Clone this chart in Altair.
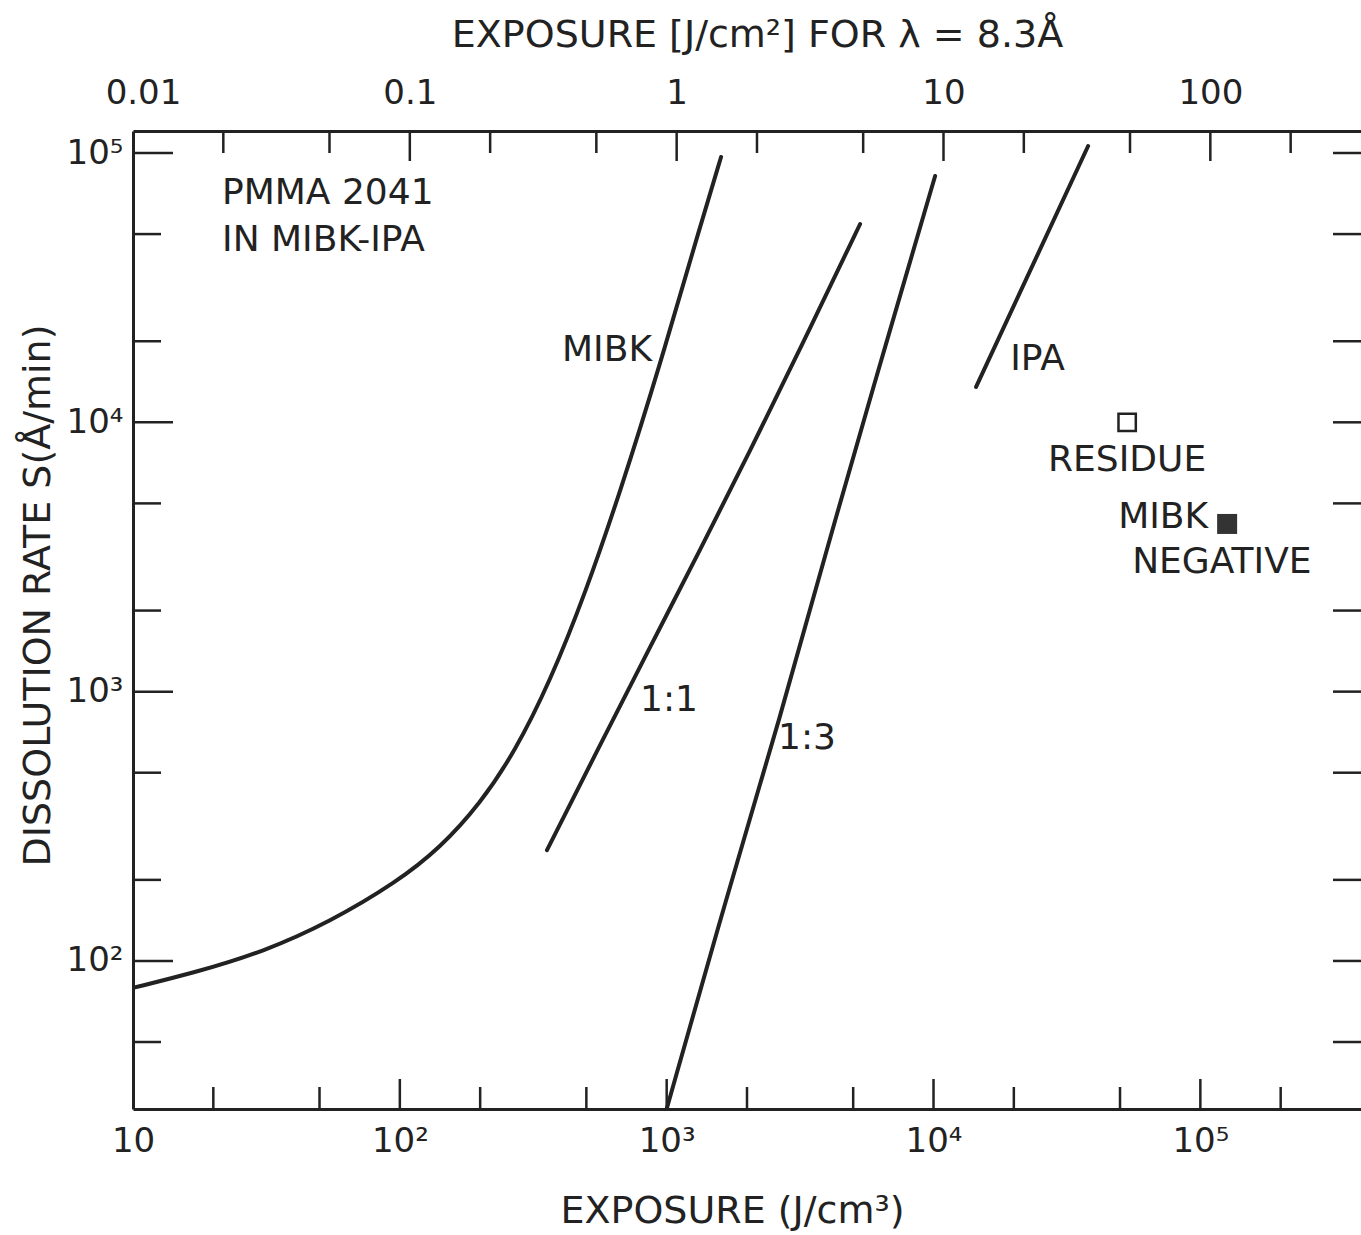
import altair as alt
import pandas as pd

# ---------------- data ----------------
# MIBK developer curve (exposure J/cm^3, dissolution rate A/min)
mibk_x = [10, 17.38, 30.7, 54.7, 97.6, 141.5, 199.8, 270.3, 365.6, 494.6, 668.9, 944.7, 1334, 1599]
mibk_y = [79.4, 91.0, 108, 139.6, 196.5, 262.8, 382.8, 599.6, 1091, 2305, 5489, 16390, 53350, 96640]

# MIBK:IPA 1:1
r11_x = [356, 562.9, 866.7, 1334, 2054, 3162, 5308]
r11_y = [258, 633.8, 1465, 3357, 7828, 18720, 54500]

# MIBK:IPA 1:3
r13_x = [1003, 1684, 2661, 3993, 5786, 10140]
r13_y = [28.5, 175.8, 798, 3415, 12310, 82140]

# IPA
ipa_x = [14440, 37970]
ipa_y = [13530, 106200]

# single markers
residue_x = [53170]
residue_y = [10000]
negative_x = [126000]
negative_y = [4194]

# annotations
note_text = ["PMMA 2041", "IN MIBK-IPA", "MIBK", "1:1", "1:3", "IPA", "RESIDUE", "MIBK", "NEGATIVE"]
note_x = [21.56, 21.56, 405.4, 795, 2615, 19370, 26880, 49190, 55520]
note_y = [71040, 47530, 18560, 931, 673, 17180, 7245, 4452, 3029]

# axes
x_label_values = [10, 100, 1000, 10000, 100000]
x_labels = ["10", "10²", "10³", "10⁴", "10⁵"]
x_major = [100, 1000, 10000, 100000]
x_minor = [20, 50, 200, 500, 2000, 5000, 20000, 50000, 200000]

y_label_values = [100, 1000, 10000, 100000]
y_labels = ["10²", "10³", "10⁴", "10⁵"]
y_major = [100, 1000, 10000, 100000]
y_minor = [50, 200, 500, 2000, 5000, 20000, 50000]

top_label_values = [0.01, 0.1, 1, 10, 100]
top_labels = ["0.01", "0.1", "1", "10", "100"]
top_major = [0.1, 1, 10, 100]
top_minor = [0.02, 0.05, 0.2, 0.5, 2, 5, 20, 50, 200]

X_MIN, X_MAX = 10, 4.0e5
Y_MIN, Y_MAX = 28.2, 1.207e5
TOP_FACTOR = 1090.0   # J/cm^3 per J/cm^2 as drawn

# ---------------- styling ----------------
W, H = 1228, 978
FONT = "DejaVu Sans"
INK = "#222222"


def label_expr(values, labels):
    expr = "'" + labels[-1] + "'"
    for v, lab in reversed(list(zip(values[:-1], labels[:-1]))):
        expr = f"datum.value < {v * 1.5} ? '{lab}' : {expr}"
    return expr


common_axis = dict(
    ticks=False, tickSize=0, grid=False, domain=True, domainColor=INK, domainWidth=3,
    labelFont=FONT, labelFontSize=34, labelColor=INK, labelFlush=False, labelOverlap=False,
    titleFont=FONT, titleFontSize=38, titleFontWeight="normal", titleColor=INK,
    titleBaseline="middle", titleAlign="center", titlePadding=0,
)

x_axis = alt.Axis(
    values=x_label_values, labelExpr=label_expr(x_label_values, x_labels),
    labelPadding=15, title="EXPOSURE (J/cm³)", titleX=599, titleY=102, **common_axis
)
y_axis = alt.Axis(
    values=y_label_values, labelExpr=label_expr(y_label_values, y_labels),
    labelPadding=10, title="DISSOLUTION RATE S(Å/min)", titleX=-95, titleY=464,
    titleAngle=270, **common_axis
)
top_axis = alt.Axis(
    orient="top", values=top_label_values, labelExpr=label_expr(top_label_values, top_labels),
    labelPadding=21, title="EXPOSURE [J/cm²] FOR λ = 8.3Å", titleX=624, titleY=-96,
    **common_axis
)

xscale = alt.Scale(type="log", domain=[X_MIN, X_MAX], nice=False)
yscale = alt.Scale(type="log", domain=[Y_MIN, Y_MAX], nice=False)
tscale = alt.Scale(type="log", domain=[X_MIN / TOP_FACTOR, X_MAX / TOP_FACTOR], nice=False)

X = alt.X("x:Q", scale=xscale, axis=x_axis)
Y = alt.Y("y:Q", scale=yscale, axis=y_axis)
XT = alt.X("xt:Q", scale=tscale, axis=top_axis)

# ---------------- layers ----------------
lines_df = pd.concat([
    pd.DataFrame({"x": mibk_x, "y": mibk_y, "curve": "MIBK"}),
    pd.DataFrame({"x": r11_x, "y": r11_y, "curve": "1:1"}),
    pd.DataFrame({"x": r13_x, "y": r13_y, "curve": "1:3"}),
    pd.DataFrame({"x": ipa_x, "y": ipa_y, "curve": "IPA"}),
], ignore_index=True)

lines = alt.Chart(lines_df).mark_line(
    interpolate="basis", strokeWidth=4, color=INK, clip=True, strokeCap="round"
).encode(x=X, y=Y, detail="curve:N")

residue = alt.Chart(pd.DataFrame({"x": residue_x, "y": residue_y})).mark_point(
    shape="square", filled=False, size=300, strokeWidth=2.5, color=INK, opacity=1
).encode(x=X, y=Y)

negative = alt.Chart(pd.DataFrame({"x": negative_x, "y": negative_y})).mark_point(
    shape="square", filled=True, size=400, color="#333333", opacity=1
).encode(x=X, y=Y)

notes = alt.Chart(pd.DataFrame({"x": note_x, "y": note_y, "t": note_text})).mark_text(
    align="left", baseline="middle", font=FONT, fontSize=36, color=INK
).encode(x=X, y=Y, text="t:N")


def rule_style():
    return dict(strokeWidth=2.5, color=INK, strokeCap="butt")


bx_major = alt.Chart(pd.DataFrame({"x": x_major})).mark_rule(**rule_style()).encode(
    x=X, y=alt.value(H), y2=alt.value(H - 30))
bx_minor = alt.Chart(pd.DataFrame({"x": x_minor})).mark_rule(**rule_style()).encode(
    x=X, y=alt.value(H), y2=alt.value(H - 22))
ly_major = alt.Chart(pd.DataFrame({"y": y_major})).mark_rule(**rule_style()).encode(
    y=Y, x=alt.value(0), x2=alt.value(40))
ly_minor = alt.Chart(pd.DataFrame({"y": y_minor})).mark_rule(**rule_style()).encode(
    y=Y, x=alt.value(0), x2=alt.value(28))
ry_major = alt.Chart(pd.DataFrame({"y": y_major})).mark_rule(**rule_style()).encode(
    y=Y, x=alt.value(W - 28), x2=alt.value(W))
ry_minor = alt.Chart(pd.DataFrame({"y": y_minor})).mark_rule(**rule_style()).encode(
    y=Y, x=alt.value(W - 28), x2=alt.value(W))

tx_major = alt.Chart(pd.DataFrame({"xt": top_major})).mark_rule(**rule_style()).encode(
    x=XT, y=alt.value(0), y2=alt.value(30))
tx_minor = alt.Chart(pd.DataFrame({"xt": top_minor})).mark_rule(**rule_style()).encode(
    x=XT, y=alt.value(0), y2=alt.value(22))

main = alt.layer(bx_major, bx_minor, ly_major, ly_minor, ry_major, ry_minor,
                 lines, residue, negative, notes)
top = alt.layer(tx_major, tx_minor)

chart = alt.layer(main, top).resolve_scale(x="independent").properties(
    width=W, height=H,
    padding={"left": 133, "top": 131, "right": 0, "bottom": 126},
    autosize=alt.AutoSizeParams(type="none"),
    background="white",
).configure_view(strokeWidth=0)

chart.save("out.html", embed_options={"renderer": "svg", "actions": False})
